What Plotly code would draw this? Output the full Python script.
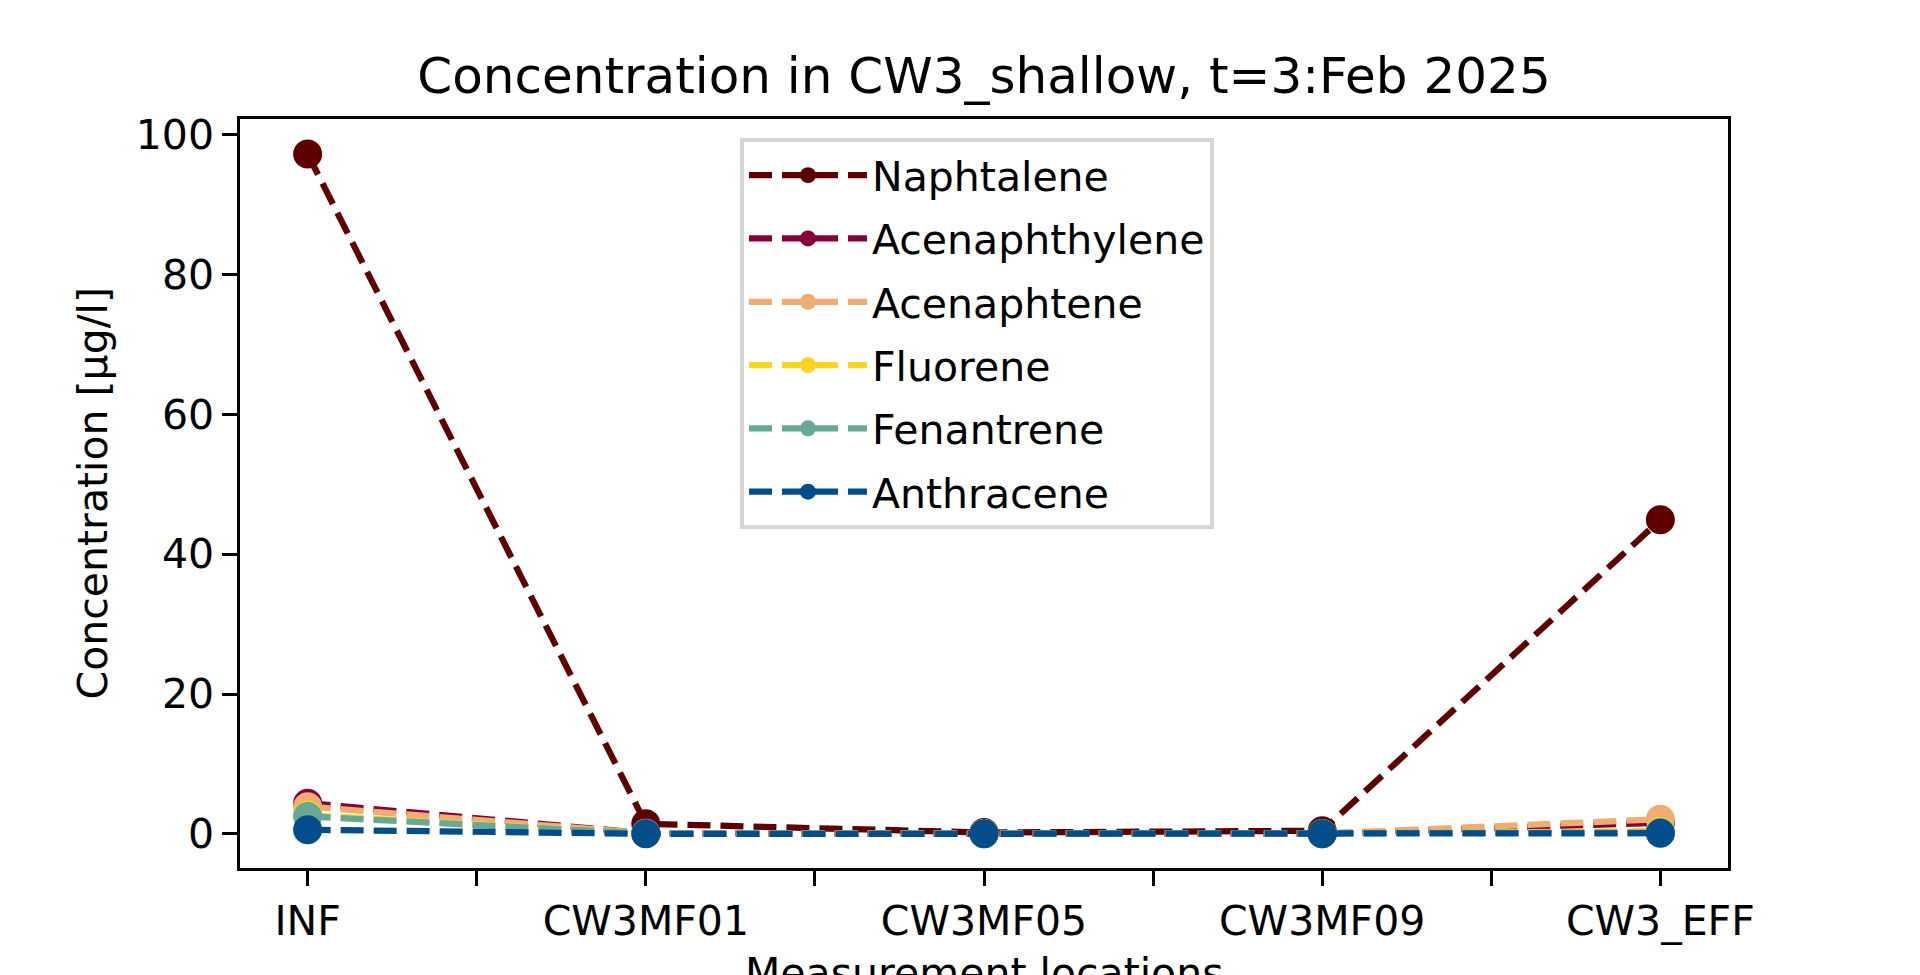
import plotly.graph_objects as go

locations = ["INF", "CW3MF01", "CW3MF05", "CW3MF09", "CW3_EFF"]
compounds = ["Naphtalene", "Acenaphthylene", "Acenaphtene", "Fluorene", "Fenantrene", "Anthracene"]
naphtalene = [97.2, 1.45, 0.2, 0.45, 44.9]
acenaphthylene = [4.4, 0.1, 0.05, 0.05, 1.6]
acenaphtene = [3.9, 0.1, 0.05, 0.05, 2.1]
fluorene = [2.7, 0.05, 0.03, 0.03, 0.4]
fenantrene = [2.5, 0.05, 0.03, 0.03, 0.2]
anthracene = [0.6, 0.02, 0.02, 0.02, 0.1]
colors = ["#5e0000", "#86003a", "#f0ad73", "#fdd323", "#67a896", "#034e8a"]
series = [naphtalene, acenaphthylene, acenaphtene, fluorene, fenantrene, anthracene]

W, H = 1920, 975
L, R, T, B = 240, 1728, 119, 868
FONT = "DejaVu Sans"

x_idx = list(range(len(locations)))
fig = go.Figure()
for name, vals, col in zip(compounds, series, colors):
    fig.add_trace(go.Scatter(
        x=x_idx, y=vals, name=name, mode="lines+markers",
        line=dict(color=col, width=6.25, dash="23px,10px"),
        marker=dict(color=col, size=29),
        legendgroup=name,
    ))

tickvals = [i * 0.5 for i in range(2 * len(locations) - 1)]
ticktext = [locations[int(v)] if v == int(v) else "" for v in tickvals]

axis_common = dict(
    showline=True, linecolor="black", linewidth=3.3, mirror=True,
    ticks="outside", ticklen=14.6, tickwidth=3.3, tickcolor="black",
    showgrid=False, zeroline=False,
    tickfont=dict(family=FONT, size=41, color="black"),
)

fig.update_layout(
    width=W, height=H,
    margin=dict(l=L, r=W - R, t=T, b=H - B, pad=0),
    paper_bgcolor="white", plot_bgcolor="white",
    font=dict(family=FONT, color="black"),
    title=dict(text="Concentration in CW3_shallow, t=3:Feb 2025",
               font=dict(family=FONT, size=50, color="black"),
               x=(L + R) / 2 / W, xanchor="center",
               y=1 - 75 / H, yanchor="middle", yref="container"),
    xaxis=dict(range=[-0.2, 4.2], tickvals=tickvals, ticktext=ticktext, **axis_common),
    yaxis=dict(range=[-4.87, 102.2], tickvals=[0, 20, 40, 60, 80, 100], **axis_common),
    showlegend=True,
    legend=dict(
        x=(740 - L) / (R - L), y=(B - 138) / (B - T), xanchor="left", yanchor="top",
        bgcolor="white", bordercolor="#d6d6d6", borderwidth=4,
        font=dict(family=FONT, size=41, color="black"),
        traceorder="grouped", tracegroupgap=7, itemwidth=118,
    ),
    annotations=[
        dict(text="Concentration [µg/l]", textangle=-90, showarrow=False,
             xref="paper", yref="paper", x=(92 - L) / (R - L), y=0.5,
             xanchor="center", yanchor="middle",
             font=dict(family=FONT, size=41, color="black")),
        dict(text="Measurement locations", showarrow=False,
             xref="paper", yref="paper", x=0.5, y=(B - 947) / (B - T),
             xanchor="center", yanchor="top",
             font=dict(family=FONT, size=41, color="black")),
    ],
)

fig.write_html("out.html")
